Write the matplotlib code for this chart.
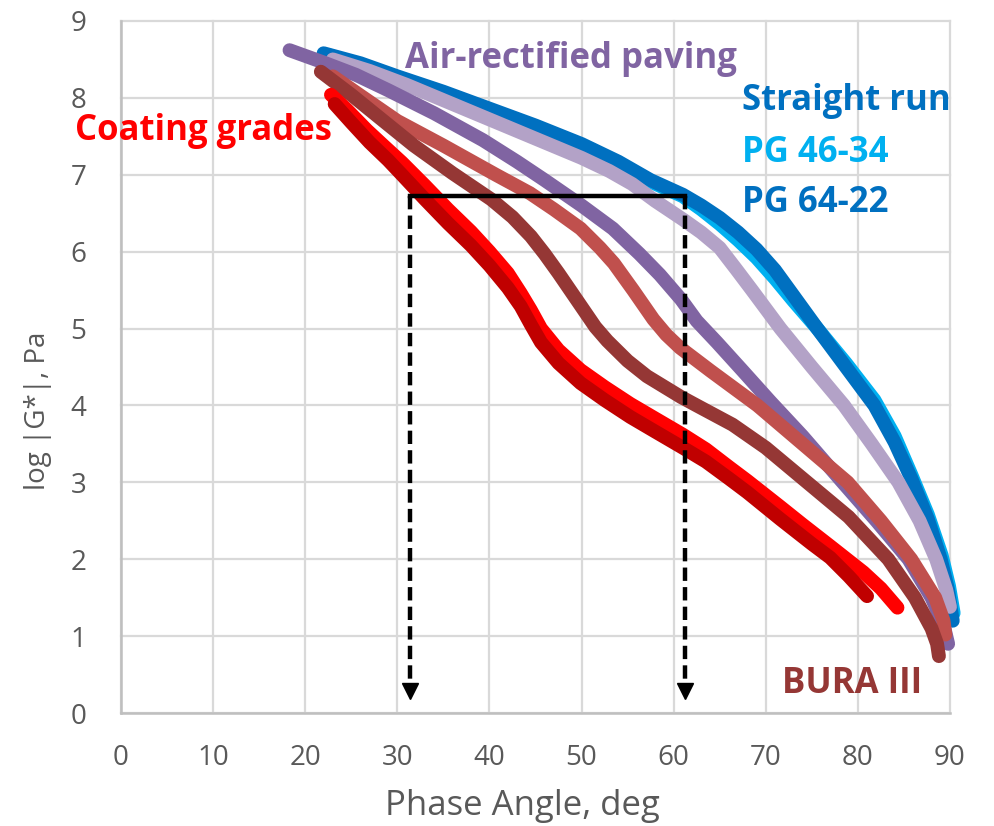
import matplotlib
matplotlib.use("Agg")
import matplotlib.pyplot as plt

plt.rcParams['font.family'] = ['Open Sans', 'DejaVu Sans']

# ---- data: phase angle (deg) vs log |G*| (Pa) ----
sr_x = [22.0, 26.0, 30.0, 35.0, 40.0, 45.0, 50.0, 54.0, 57.5, 61.0, 63.0, 65.0, 67.0, 69.0, 71.0, 73.0, 75.6, 78.7, 81.8, 84.0, 85.8, 87.6, 89.0, 89.8, 90.3]
sr_y = [8.58, 8.45, 8.28, 8.08, 7.86, 7.64, 7.40, 7.17, 6.93, 6.74, 6.60, 6.44, 6.25, 6.03, 5.76, 5.43, 5.00, 4.50, 4.00, 3.52, 3.05, 2.52, 2.00, 1.60, 1.20]

pg46_x = [22.4, 26.0, 30.0, 35.0, 40.0, 45.0, 50.0, 54.0, 57.5, 61.0, 63.0, 65.0, 67.0, 69.0, 71.0, 73.0, 75.6, 78.7, 81.8, 84.0, 85.8, 87.6, 89.1, 89.9, 90.4]
pg46_y = [8.56, 8.43, 8.26, 8.06, 7.84, 7.62, 7.38, 7.15, 6.91, 6.72, 6.55, 6.36, 6.15, 5.92, 5.65, 5.36, 5.00, 4.55, 4.07, 3.60, 3.10, 2.58, 2.05, 1.65, 1.30]

lav_x = [23.0, 27.0, 31.0, 35.0, 40.0, 45.0, 50.0, 53.0, 55.5, 58.0, 61.0, 63.0, 65.0, 66.8, 68.5, 71.6, 75.0, 78.5, 81.5, 84.4, 86.7, 88.5, 89.6, 90.0]
lav_y = [8.50, 8.35, 8.17, 7.97, 7.72, 7.47, 7.22, 7.05, 6.88, 6.66, 6.42, 6.25, 6.05, 5.77, 5.50, 5.00, 4.50, 4.00, 3.50, 3.00, 2.50, 2.00, 1.60, 1.38]

pur_x = [18.3, 22.0, 25.5, 29.0, 34.0, 39.3, 43.0, 46.0, 50.0, 53.4, 56.3, 58.5, 60.8, 62.5, 64.7, 67.5, 70.5, 74.0, 78.2, 82.0, 85.5, 88.0, 89.3, 89.8]
pur_y = [8.62, 8.46, 8.30, 8.10, 7.80, 7.45, 7.17, 6.93, 6.60, 6.30, 5.97, 5.70, 5.38, 5.10, 4.82, 4.45, 4.05, 3.60, 3.02, 2.50, 2.00, 1.50, 1.15, 0.90]

lred_x = [23.0, 26.0, 30.0, 35.0, 40.7, 44.4, 47.0, 49.9, 52.0, 53.5, 55.6, 57.8, 59.2, 60.7, 64.0, 69.1, 74.0, 78.9, 82.5, 85.8, 88.4, 89.3, 89.5]
lred_y = [8.28, 8.03, 7.70, 7.38, 7.00, 6.76, 6.55, 6.30, 6.05, 5.85, 5.50, 5.12, 4.92, 4.75, 4.45, 4.00, 3.50, 3.00, 2.50, 2.00, 1.50, 1.20, 1.02]

bura_x = [21.7, 25.0, 28.5, 31.8, 36.0, 40.2, 42.5, 44.5, 46.0, 47.5, 49.9, 51.5, 52.8, 55.0, 57.1, 60.8, 62.5, 66.4, 70.0, 74.5, 79.0, 83.3, 86.2, 88.0, 88.6, 88.8]
bura_y = [8.34, 8.04, 7.70, 7.38, 7.02, 6.68, 6.45, 6.20, 5.97, 5.72, 5.30, 5.02, 4.84, 4.58, 4.38, 4.11, 4.00, 3.75, 3.45, 3.00, 2.55, 2.00, 1.50, 1.10, 0.90, 0.74]

cg1_x = [22.8, 24.5, 26.7, 28.5, 30.5, 33.0, 35.5, 38.0, 40.0, 42.0, 43.4, 44.5, 45.6, 47.5, 49.9, 52.5, 55.3, 58.0, 61.0, 63.5, 66.0, 68.0, 71.6, 74.0, 77.0, 80.6, 82.5, 84.3]
cg1_y = [8.04, 7.85, 7.58, 7.38, 7.16, 6.86, 6.55, 6.26, 6.00, 5.72, 5.46, 5.24, 5.00, 4.72, 4.46, 4.24, 4.02, 3.83, 3.62, 3.43, 3.20, 3.02, 2.68, 2.45, 2.17, 1.83, 1.62, 1.37]

cg2_x = [23.2, 25.0, 27.0, 29.0, 30.5, 33.0, 35.5, 38.0, 40.0, 42.0, 43.4, 44.5, 45.6, 47.5, 49.9, 52.5, 55.3, 58.0, 61.0, 63.5, 66.0, 68.0, 71.6, 75.0, 77.0, 79.0, 81.0]
cg2_y = [7.92, 7.68, 7.42, 7.19, 7.00, 6.68, 6.37, 6.08, 5.82, 5.53, 5.29, 5.05, 4.82, 4.55, 4.29, 4.07, 3.85, 3.66, 3.45, 3.27, 3.05, 2.87, 2.52, 2.20, 2.02, 1.78, 1.52]

# reference construction (iso-modulus line and the two phase angles)
iso_modulus = 6.72
angle_lo = 31.4
angle_hi = 61.2
arrow_tip = 0.17

x_ticks = list(range(0, 100, 10))
y_ticks = list(range(0, 10))

# ---- figure ----
fig = plt.figure(figsize=(9.94, 8.26), dpi=100)
ax = fig.add_axes([0.1217, 0.1368, 0.8340, 0.8378])
ax.set_xlim(0, 90)
ax.set_ylim(0, 9)
ax.set_xticks(x_ticks)
ax.set_yticks(y_ticks)

grid_c = '#D9D9D9'
ax.grid(True, color=grid_c, linewidth=1.6, zorder=0)
for gl in ax.get_xgridlines() + ax.get_ygridlines():
    gl.set_clip_on(False)
ax.set_axisbelow(True)
for s in ('top', 'right'):
    ax.spines[s].set_visible(False)
for s in ('left', 'bottom'):
    ax.spines[s].set_color('#BFBFBF')
    ax.spines[s].set_linewidth(1.8)

ax.tick_params(length=0, labelsize=20, labelcolor='#595959')
ax.tick_params(axis='y', pad=25)
ax.tick_params(axis='x', pad=22)

ax.text(0.484, -0.134, 'Phase Angle, deg', transform=ax.transAxes,
        fontsize=25, color='#595959', ha='center', va='center')
ax.text(-0.100, 0.436, 'log |G*|, Pa', transform=ax.transAxes,
        fontsize=20, color='#595959', ha='center', va='center', rotation=90)

lw = 10
series = [
    (pg46_x, pg46_y, '#00B0F0'),
    (sr_x, sr_y, '#0070C0'),
    (lav_x, lav_y, '#B3A2C7'),
    (pur_x, pur_y, '#8064A2'),
    (lred_x, lred_y, '#C0504D'),
    (bura_x, bura_y, '#953735'),
    (cg1_x, cg1_y, '#FF0000'),
    (cg2_x, cg2_y, '#C00000'),
]
for i, (xs, ys, c) in enumerate(series):
    ax.plot(xs, ys, color=c, lw=lw, solid_capstyle='round',
            solid_joinstyle='round', zorder=3 + i, clip_on=False)

# iso-modulus construction
ax.plot([angle_lo, angle_hi], [iso_modulus, iso_modulus], color='black',
        lw=3.2, solid_capstyle='projecting', zorder=20)
for xa in (angle_lo, angle_hi):
    ax.plot([xa, xa], [iso_modulus, arrow_tip + 0.2], color='black', lw=3.2,
            dashes=(3, 1.4), zorder=20)
    ax.plot([xa], [arrow_tip + 0.12], marker='v', color='black',
            markersize=12, zorder=21)

# series labels
lab = dict(fontsize=25, fontweight='bold', ha='left', va='baseline')
ax.text(-5.0, 7.45, 'Coating grades', color='#FF0000', clip_on=False, **lab)
ax.text(30.8, 8.39, 'Air-rectified paving', color='#8064A2', **lab)
ax.text(67.4, 7.84, 'Straight run', color='#0070C0', **lab)
ax.text(67.4, 7.17, 'PG 46-34', color='#00B0F0', **lab)
ax.text(67.4, 6.52, 'PG 64-22', color='#0070C0', **lab)
ax.text(71.8, 0.26, 'BURA III', color='#953735', **lab)

fig.savefig('out.png', dpi=100)
